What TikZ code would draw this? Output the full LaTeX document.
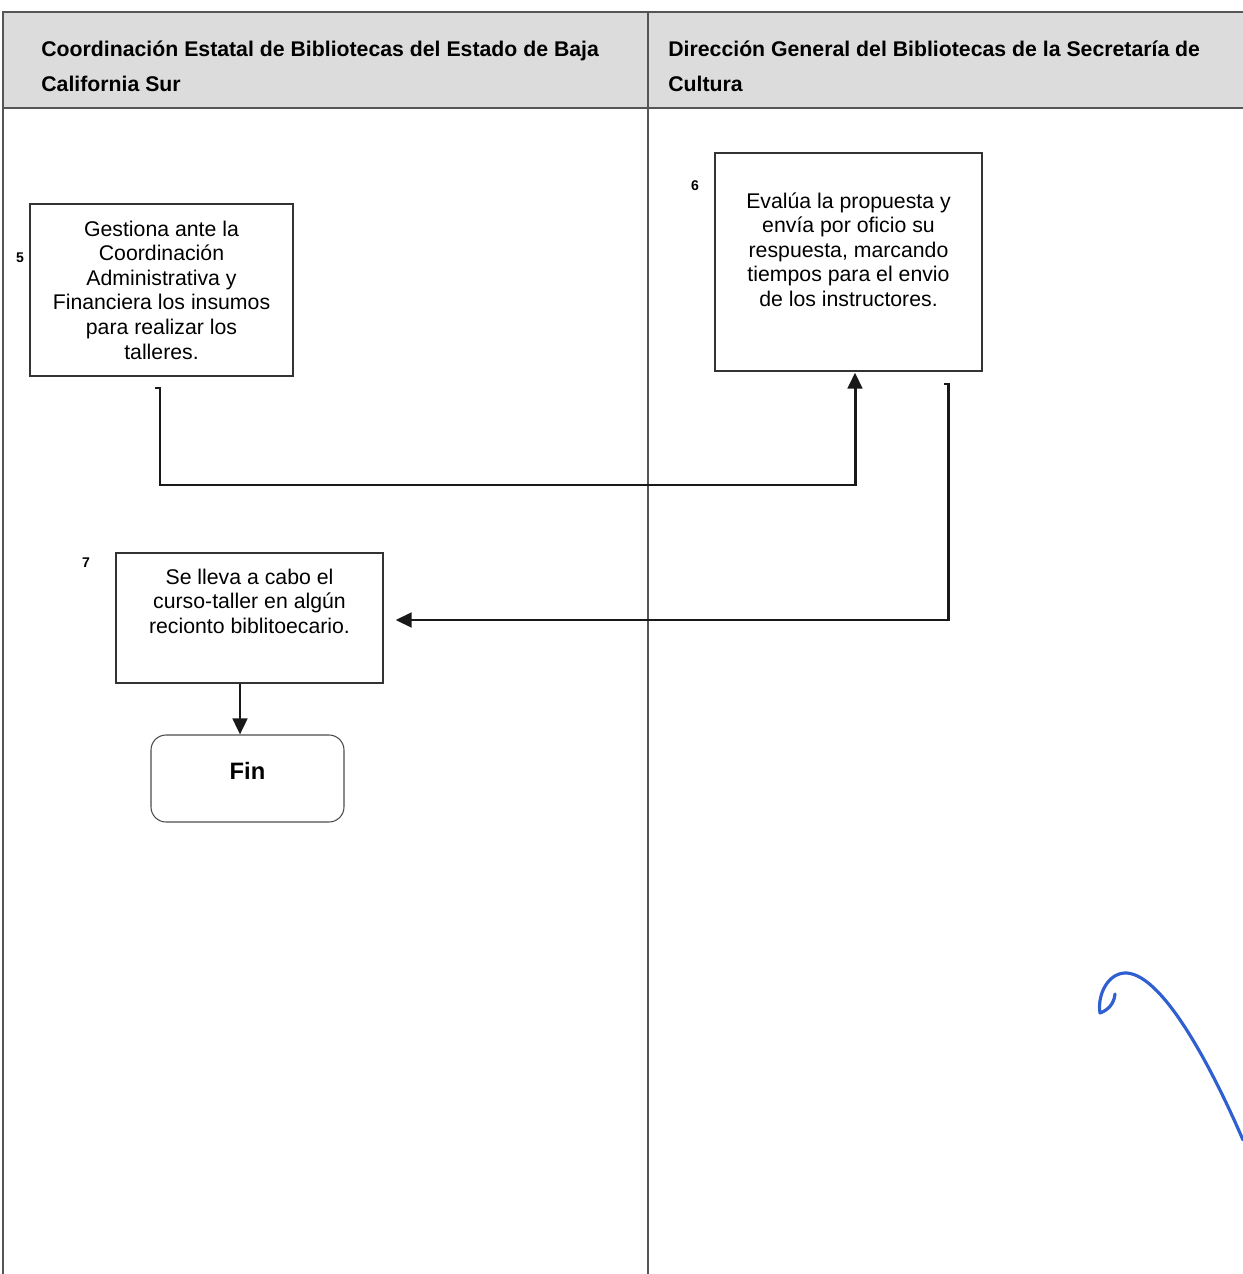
\documentclass[tikz,border=0pt]{standalone}
\usepackage{fontspec}
\setmainfont{Liberation Sans}
\usetikzlibrary{arrows.meta,calc}
\definecolor{hdrgray}{HTML}{DCDCDC}
\definecolor{linegray}{HTML}{555555}
\definecolor{penblue}{HTML}{2F5FD0}
\tikzset{
  stepbox/.style={draw=black!80, line width=0.7pt, align=center, inner sep=0pt,
    font=\fontsize{12.1}{14}\selectfont},
  endbox/.style={draw=black!70, line width=0.6pt, rounded corners=0.3cm, align=center,
    minimum width=3.86cm, minimum height=1.74cm, font=\bfseries\fontsize{13.5}{15}\selectfont},
  numlbl/.style={font=\bfseries\fontsize{8}{9}\selectfont, inner sep=0pt},
  hdrtext/.style={font=\bfseries\fontsize{12.1}{19.6}\selectfont, align=left, inner sep=0pt, anchor=north west},
  lane/.style={draw=linegray, line width=0.9pt},
  conn/.style={draw=black!90, line width=1.7pt},
  tip/.style={-{Triangle[width=0.29cm,length=0.32cm]}},
}
\begin{document}
\begin{tikzpicture}[x=0.02cm, y=-0.02cm]
\useasboundingbox (0,0) rectangle (1243,1274);
\fill[white] (0,0) rectangle (1243,1274);
% header band
\fill[hdrgray] (3,12) rectangle (1243,108);
\draw[lane] (1243,12) -- (3,12) -- (3,1274);
\draw[lane] (3,108) -- (1243,108);
\draw[lane] (648,12) -- (648,1274);
\node[hdrtext] (h1) at (41,41) {Coordinación Estatal de Bibliotecas del Estado de Baja\\California Sur};
\node[hdrtext] (h2) at (668,41) {Dirección General del Bibliotecas de la Secretaría de\\Cultura};

% step boxes
\node[stepbox, minimum width=5.26cm, minimum height=3.44cm] (b5) at (161.5,290)
  {Gestiona ante la\\Coordinación\\Administrativa y\\Financiera los insumos\\para realizar los\\talleres.};
\node[numlbl] (n5) at (20,258) {5};

\node[stepbox, minimum width=5.34cm, minimum height=4.36cm] (b6) at (848.5,262)
  {Evalúa la propuesta y\\envía por oficio su\\respuesta, marcando\\tiempos para el envio\\de los instructores.\rule[-0.5cm]{0pt}{0pt}};
\node[numlbl] (n6) at (695,186) {6};

\node[stepbox, minimum width=5.34cm, minimum height=2.6cm] (b7) at (249.5,618)
  {Se lleva a cabo el\\curso-taller en algún\\recionto biblitoecario.\rule[-0.68cm]{0pt}{0pt}};
\node[numlbl] (n7) at (86,563) {7};

\node[endbox] (fin) at (247.5,778.5) {Fin\rule[-0.3cm]{0pt}{0pt}};

% connectors
\coordinate (s5) at (155,388);
\coordinate (s6) at (944,384);
\draw[conn, tip] (s5) -- ++(5,0) -- ++(0,97) -| ([xshift=0.13cm,yshift=-0.02cm]b6.south);
\draw[conn, tip] (s6) -- ++(4,0) |- ([xshift=0.24cm,yshift=-0.04cm]b7.east);
\draw[conn, tip] ([xshift=-0.19cm]b7.south) -- ([xshift=-0.19cm]b7.south |- fin.north);

% blue pen stroke
\draw[penblue, line width=1.8pt, line cap=round, line join=round]
  (1115,994) .. controls (1114,1004) and (1108,1010) .. (1100,1013)
  .. controls (1097,995) and (1108,972) .. (1127,973)
  .. controls (1165,976) and (1215,1075) .. (1243,1140);
\end{tikzpicture}
\end{document}
